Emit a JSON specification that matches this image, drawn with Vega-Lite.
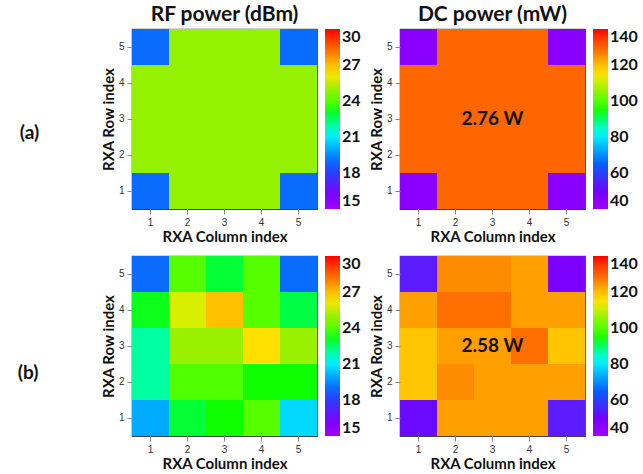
{
  "$schema": "https://vega.github.io/schema/vega-lite/v6.json",
  "padding": {"left": 17, "top": 3, "right": 0, "bottom": 0},
  "background": "white",
  "config": {
    "view": {"stroke": "#444", "strokeWidth": 1.2},
    "font": "Lato",
    "scale": {"bandPaddingInner": 0, "bandPaddingOuter": 0, "rectBandPaddingInner": 0},
    "axis": {
      "labelFont": "Liberation Sans", "labelFontSize": 10, "labelColor": "#333",
      "titleFont": "Lato", "titleFontSize": 15, "titleFontWeight": "bold", "titleColor": "#111",
      "tickColor": "#888", "domainColor": "#444", "labelAngle": 0, "grid": false, "tickSize": 5, "labelPadding": 3, "titlePadding": 2
    },
    "legend": {
      "labelFont": "Lato", "labelFontSize": 16, "labelFontWeight": "bold", "labelColor": "#111",
      "gradientLength": 180, "gradientThickness": 15, "gradientStrokeColor": "#888", "offset": 8, "labelOffset": 4,
      "tickCount": 6
    },
    "title": {"font": "Lato", "fontSize": 21, "fontWeight": "bold", "color": "#111"}
  },
  "datasets": {
    "rfA": [
      {"col": 1, "row": 5, "v": 19}, {"col": 2, "row": 5, "v": 24.9}, {"col": 3, "row": 5, "v": 24.9}, {"col": 4, "row": 5, "v": 24.9}, {"col": 5, "row": 5, "v": 19},
      {"col": 1, "row": 4, "v": 24.9}, {"col": 2, "row": 4, "v": 24.9}, {"col": 3, "row": 4, "v": 24.9}, {"col": 4, "row": 4, "v": 24.9}, {"col": 5, "row": 4, "v": 24.9},
      {"col": 1, "row": 3, "v": 24.9}, {"col": 2, "row": 3, "v": 24.9}, {"col": 3, "row": 3, "v": 24.9}, {"col": 4, "row": 3, "v": 24.9}, {"col": 5, "row": 3, "v": 24.9},
      {"col": 1, "row": 2, "v": 24.9}, {"col": 2, "row": 2, "v": 24.9}, {"col": 3, "row": 2, "v": 24.9}, {"col": 4, "row": 2, "v": 24.9}, {"col": 5, "row": 2, "v": 24.9},
      {"col": 1, "row": 1, "v": 19}, {"col": 2, "row": 1, "v": 24.9}, {"col": 3, "row": 1, "v": 24.9}, {"col": 4, "row": 1, "v": 24.9}, {"col": 5, "row": 1, "v": 19}
    ],
    "dcA": [
      {"col": 1, "row": 5, "v": 45}, {"col": 2, "row": 5, "v": 128.7}, {"col": 3, "row": 5, "v": 128.7}, {"col": 4, "row": 5, "v": 128.7}, {"col": 5, "row": 5, "v": 45},
      {"col": 1, "row": 4, "v": 128.7}, {"col": 2, "row": 4, "v": 128.7}, {"col": 3, "row": 4, "v": 128.7}, {"col": 4, "row": 4, "v": 128.7}, {"col": 5, "row": 4, "v": 128.7},
      {"col": 1, "row": 3, "v": 128.7}, {"col": 2, "row": 3, "v": 128.7}, {"col": 3, "row": 3, "v": 128.7}, {"col": 4, "row": 3, "v": 128.7}, {"col": 5, "row": 3, "v": 128.7},
      {"col": 1, "row": 2, "v": 128.7}, {"col": 2, "row": 2, "v": 128.7}, {"col": 3, "row": 2, "v": 128.7}, {"col": 4, "row": 2, "v": 128.7}, {"col": 5, "row": 2, "v": 128.7},
      {"col": 1, "row": 1, "v": 45}, {"col": 2, "row": 1, "v": 128.7}, {"col": 3, "row": 1, "v": 128.7}, {"col": 4, "row": 1, "v": 128.7}, {"col": 5, "row": 1, "v": 45}
    ],
    "rfB": [
      {"col": 1, "row": 5, "v": 19}, {"col": 2, "row": 5, "v": 24}, {"col": 3, "row": 5, "v": 22.9}, {"col": 4, "row": 5, "v": 24}, {"col": 5, "row": 5, "v": 19},
      {"col": 1, "row": 4, "v": 23.1}, {"col": 2, "row": 4, "v": 25.7}, {"col": 3, "row": 4, "v": 27}, {"col": 4, "row": 4, "v": 24}, {"col": 5, "row": 4, "v": 22.7},
      {"col": 1, "row": 3, "v": 22}, {"col": 2, "row": 3, "v": 25}, {"col": 3, "row": 3, "v": 25}, {"col": 4, "row": 3, "v": 26.3}, {"col": 5, "row": 3, "v": 25},
      {"col": 1, "row": 2, "v": 22}, {"col": 2, "row": 2, "v": 23.9}, {"col": 3, "row": 2, "v": 23.9}, {"col": 4, "row": 2, "v": 23.2}, {"col": 5, "row": 2, "v": 23.2},
      {"col": 1, "row": 1, "v": 20}, {"col": 2, "row": 1, "v": 22.9}, {"col": 3, "row": 1, "v": 23.2}, {"col": 4, "row": 1, "v": 24}, {"col": 5, "row": 1, "v": 20.7}
    ],
    "dcB": [
      {"col": 1, "row": 5, "v": 53}, {"col": 2, "row": 5, "v": 125.3}, {"col": 3, "row": 5, "v": 125.3}, {"col": 4, "row": 5, "v": 123.3}, {"col": 5, "row": 5, "v": 48},
      {"col": 1, "row": 4, "v": 123.3}, {"col": 2, "row": 4, "v": 128}, {"col": 3, "row": 4, "v": 128}, {"col": 4, "row": 4, "v": 123.3}, {"col": 5, "row": 4, "v": 123.3},
      {"col": 1, "row": 3, "v": 119.3}, {"col": 2, "row": 3, "v": 123.3}, {"col": 3, "row": 3, "v": 123.3}, {"col": 4, "row": 3, "v": 128}, {"col": 5, "row": 3, "v": 119.3},
      {"col": 1, "row": 2, "v": 119.3}, {"col": 2, "row": 2, "v": 125.3}, {"col": 3, "row": 2, "v": 123.3}, {"col": 4, "row": 2, "v": 123.3}, {"col": 5, "row": 2, "v": 123.3},
      {"col": 1, "row": 1, "v": 50.7}, {"col": 2, "row": 1, "v": 123.3}, {"col": 3, "row": 1, "v": 123.3}, {"col": 4, "row": 1, "v": 123.3}, {"col": 5, "row": 1, "v": 53}
    ],
    "labA": [{"col": 3, "row": 3, "label": "2.76 W"}],
    "labB": [{"col": 3, "row": 3, "label": "2.58 W"}]
  },
  "spacing": 10,
  "vconcat": [
    {
      "title": {"text": "(a)", "orient": "left", "angle": 0, "anchor": "middle", "offset": 52, "fontSize": 19},
      "spacing": 6,
      "hconcat": [
        {
          "title": {"text": "RF power (dBm)", "offset": 4},
          "width": 185, "height": 180,
          "data": {"name": "rfA"},
          "mark": {"type": "rect"},
          "encoding": {
            "x": {"field": "col", "type": "ordinal", "title": "RXA Column index", "axis": {"domain": false}},
            "y": {"field": "row", "type": "ordinal", "sort": "descending", "title": "RXA Row index", "axis": {"domain": false}},
            "color": {"field": "v", "type": "quantitative", "title": null,
              "scale": {"domain": [15, 16.5, 17.5, 18.5, 19, 20, 20.7, 21.3, 22, 22.7, 23.2, 24, 25, 25.7, 26.3, 27, 27.5, 28.3, 29, 30],
                "range": ["#a000ff", "#7000ff", "#3c28ff", "#1450ff", "#0a6cff", "#00aaff", "#00d8ff", "#00ffff", "#00ffa0", "#00ff44", "#10ff00", "#55ff00", "#99f000", "#d8f000", "#ffe000", "#ffc000", "#ffa000", "#ff6600", "#ff4000", "#ff0000"]},
              "legend": {"values": [15, 18, 21, 24, 27, 30]}}
          }
        },
        {
          "title": {"text": "DC power (mW)", "offset": 4},
          "width": 185, "height": 180,
          "layer": [
            {
              "data": {"name": "dcA"},
              "mark": {"type": "rect"},
              "encoding": {
                "x": {"field": "col", "type": "ordinal", "title": "RXA Column index", "axis": {"domain": false}},
                "y": {"field": "row", "type": "ordinal", "sort": "descending", "title": "RXA Row index", "axis": {"domain": false}},
                "color": {"field": "v", "type": "quantitative", "title": null,
                  "scale": {"domain": [40, 50, 56.67, 63.33, 66.67, 73.33, 78, 82, 86.67, 91.33, 94.67, 100, 106.67, 111.33, 115.33, 120, 123.33, 128.67, 133.33, 140],
                    "range": ["#a000ff", "#7000ff", "#3c28ff", "#1450ff", "#0a6cff", "#00aaff", "#00d8ff", "#00ffff", "#00ffa0", "#00ff44", "#10ff00", "#55ff00", "#99f000", "#d8f000", "#ffe000", "#ffc000", "#ffa000", "#ff6600", "#ff4000", "#ff0000"]},
                  "legend": {"values": [40, 60, 80, 100, 120, 140]}}
              }
            },
            {
              "data": {"name": "labA"},
              "mark": {"type": "text", "font": "Lato", "fontSize": 19, "fontWeight": "bold", "color": "#111"},
              "encoding": {
                "x": {"field": "col", "type": "ordinal"},
                "y": {"field": "row", "type": "ordinal", "sort": "descending"},
                "text": {"field": "label"}
              }
            }
          ]
        }
      ],
      "resolve": {"scale": {"color": "independent"}}
    },
    {
      "title": {"text": "(b)", "orient": "left", "angle": 0, "anchor": "middle", "offset": 52, "fontSize": 19},
      "spacing": 6,
      "hconcat": [
        {
          "width": 185, "height": 180,
          "data": {"name": "rfB"},
          "mark": {"type": "rect"},
          "encoding": {
            "x": {"field": "col", "type": "ordinal", "title": "RXA Column index", "axis": {"domain": false}},
            "y": {"field": "row", "type": "ordinal", "sort": "descending", "title": "RXA Row index", "axis": {"domain": false}},
            "color": {"field": "v", "type": "quantitative", "title": null,
              "scale": {"domain": [15, 16.5, 17.5, 18.5, 19, 20, 20.7, 21.3, 22, 22.7, 23.2, 24, 25, 25.7, 26.3, 27, 27.5, 28.3, 29, 30],
                "range": ["#a000ff", "#7000ff", "#3c28ff", "#1450ff", "#0a6cff", "#00aaff", "#00d8ff", "#00ffff", "#00ffa0", "#00ff44", "#10ff00", "#55ff00", "#99f000", "#d8f000", "#ffe000", "#ffc000", "#ffa000", "#ff6600", "#ff4000", "#ff0000"]},
              "legend": {"values": [15, 18, 21, 24, 27, 30]}}
          }
        },
        {
          "width": 185, "height": 180,
          "layer": [
            {
              "data": {"name": "dcB"},
              "mark": {"type": "rect"},
              "encoding": {
                "x": {"field": "col", "type": "ordinal", "title": "RXA Column index", "axis": {"domain": false}},
                "y": {"field": "row", "type": "ordinal", "sort": "descending", "title": "RXA Row index", "axis": {"domain": false}},
                "color": {"field": "v", "type": "quantitative", "title": null,
                  "scale": {"domain": [40, 50, 56.67, 63.33, 66.67, 73.33, 78, 82, 86.67, 91.33, 94.67, 100, 106.67, 111.33, 115.33, 120, 123.33, 128.67, 133.33, 140],
                    "range": ["#a000ff", "#7000ff", "#3c28ff", "#1450ff", "#0a6cff", "#00aaff", "#00d8ff", "#00ffff", "#00ffa0", "#00ff44", "#10ff00", "#55ff00", "#99f000", "#d8f000", "#ffe000", "#ffc000", "#ffa000", "#ff6600", "#ff4000", "#ff0000"]},
                  "legend": {"values": [40, 60, 80, 100, 120, 140]}}
              }
            },
            {
              "data": {"name": "labB"},
              "mark": {"type": "text", "font": "Lato", "fontSize": 19, "fontWeight": "bold", "color": "#111"},
              "encoding": {
                "x": {"field": "col", "type": "ordinal"},
                "y": {"field": "row", "type": "ordinal", "sort": "descending"},
                "text": {"field": "label"}
              }
            }
          ]
        }
      ],
      "resolve": {"scale": {"color": "independent"}}
    }
  ],
  "resolve": {"scale": {"color": "independent"}}
}
